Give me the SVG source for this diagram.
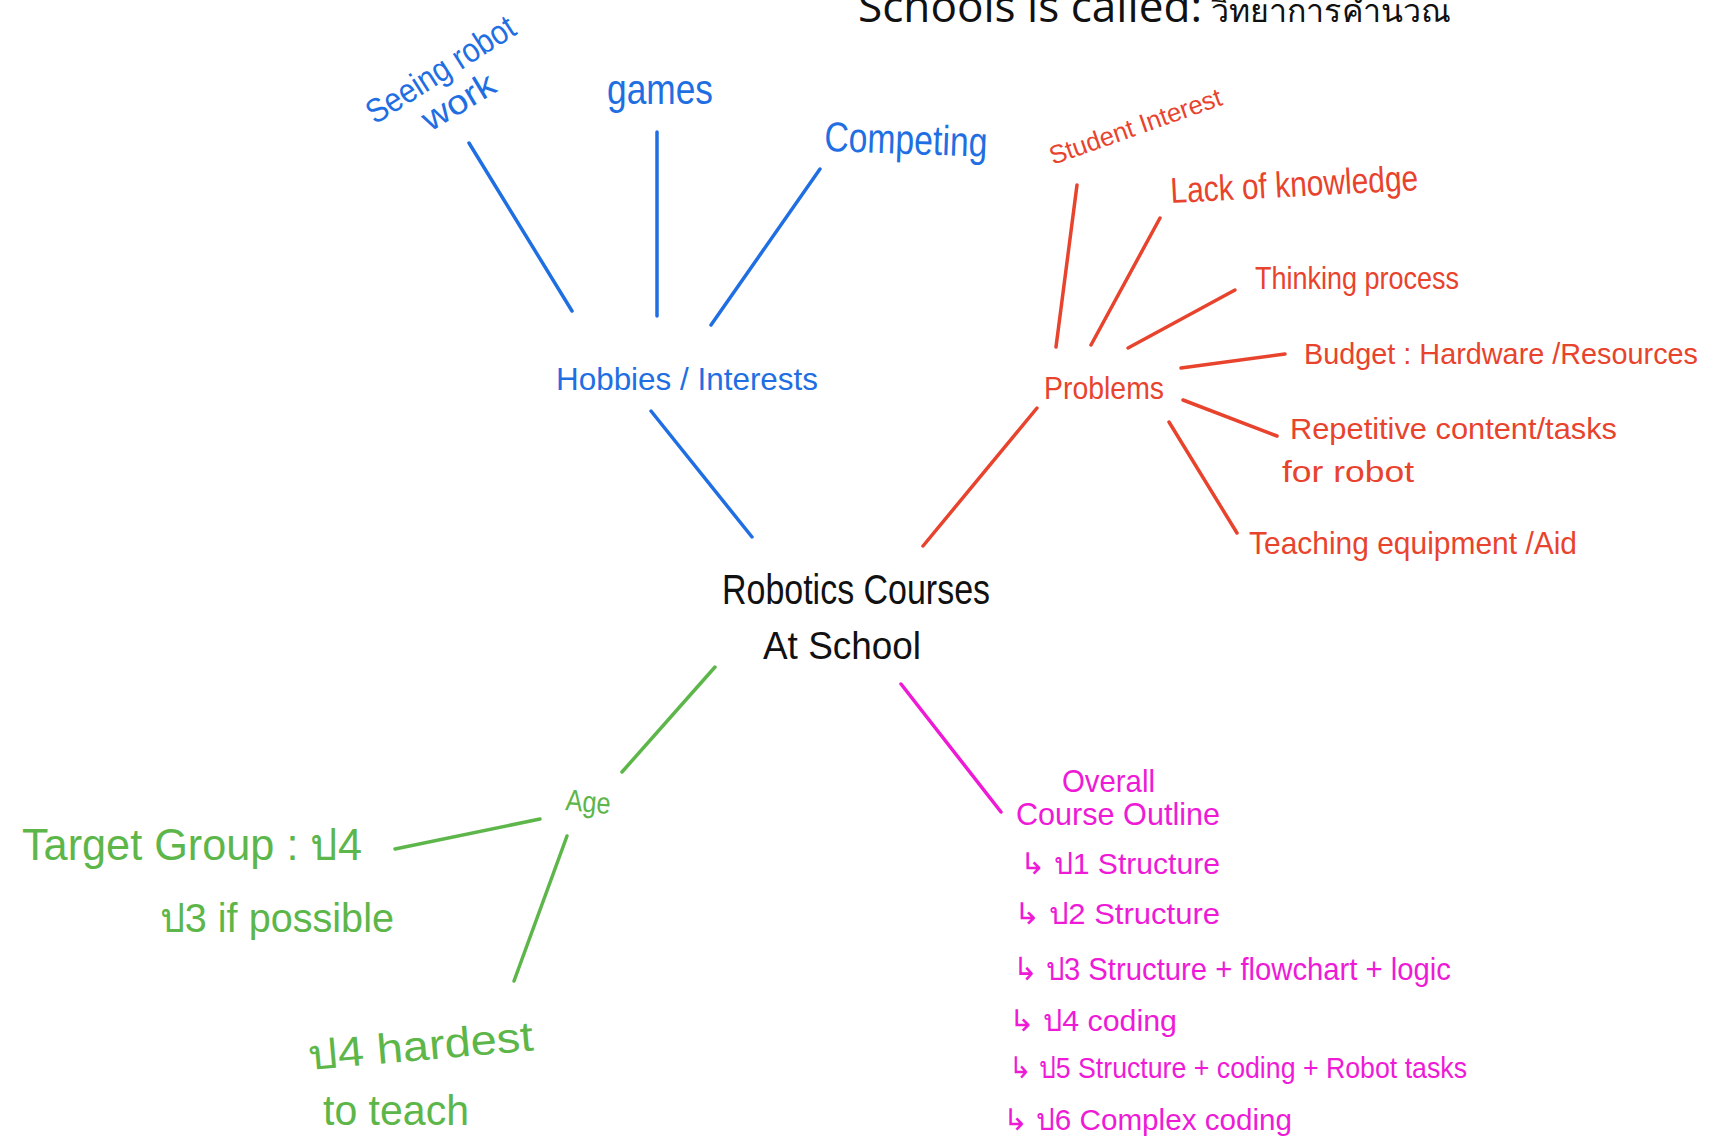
<svg xmlns="http://www.w3.org/2000/svg" width="1729" height="1147" viewBox="0 0 1729 1147">
<style>
.hw{font-family:"Liberation Sans","DejaVu Sans",sans-serif;}
.blue{fill:#1f6fe3;}
.red{fill:#e8432d;}
.green{fill:#5db64a;}
.mag{fill:#ee1ad6;}
.blk{fill:#111;}
.lb{stroke:#1f6fe3;stroke-width:3.5;stroke-linecap:round;fill:none;}
.lr{stroke:#e8432d;stroke-width:3.5;stroke-linecap:round;fill:none;}
.lg{stroke:#5db64a;stroke-width:3.5;stroke-linecap:round;fill:none;}
.lm{stroke:#ee1ad6;stroke-width:3.5;stroke-linecap:round;fill:none;}
</style>
<rect width="1729" height="1147" fill="#ffffff"/>

<g id="title">
<text x="858" y="22" font-family="'Open Sans','Liberation Sans',sans-serif" font-size="44" fill="#111" textLength="344" lengthAdjust="spacingAndGlyphs">Schools is called:</text>
<text x="1211" y="22" font-family="'Noto Sans','DejaVu Sans',sans-serif" font-size="32" fill="#111" textLength="240" lengthAdjust="spacingAndGlyphs">วิทยาการคำนวณ</text>
</g>

<g id="connectors">
<line class="lb" x1="469" y1="143" x2="572" y2="311"/>
<line class="lb" x1="657" y1="132" x2="657" y2="316"/>
<line class="lb" x1="820" y1="169" x2="711" y2="325"/>
<line class="lb" x1="651" y1="411" x2="752" y2="537"/>
<line class="lr" x1="1077" y1="185" x2="1056" y2="347"/>
<line class="lr" x1="1160" y1="218" x2="1091" y2="345"/>
<line class="lr" x1="1235" y1="290" x2="1128" y2="348"/>
<line class="lr" x1="1285" y1="354" x2="1181" y2="368"/>
<line class="lr" x1="1183" y1="400" x2="1277" y2="436"/>
<line class="lr" x1="1169" y1="422" x2="1237" y2="533"/>
<line class="lr" x1="1037" y1="408" x2="923" y2="546"/>
<line class="lg" x1="715" y1="667" x2="622" y2="772"/>
<line class="lg" x1="540" y1="819" x2="395" y2="849"/>
<line class="lg" x1="567" y1="836" x2="514" y2="981"/>
<line class="lm" x1="901" y1="684" x2="1001" y2="812"/>
</g>

<g id="center">
<text class="hw blk" x="722" y="604" font-size="42" textLength="268" lengthAdjust="spacingAndGlyphs">Robotics Courses</text>
<text class="hw blk" x="763" y="659" font-size="38" textLength="158" lengthAdjust="spacingAndGlyphs">At School</text>
</g>

<g id="hobbies">
<text class="hw blue" x="556" y="390" font-size="32" textLength="262" lengthAdjust="spacingAndGlyphs">Hobbies / Interests</text>
</g>
<g id="seeing-robot-work">
<text class="hw blue" x="375" y="125" font-size="34" textLength="170" lengthAdjust="spacingAndGlyphs" transform="rotate(-32.6 375 125)">Seeing robot</text>
<text class="hw blue" x="430" y="132" font-size="34" textLength="80" lengthAdjust="spacingAndGlyphs" transform="rotate(-31 430 132)">work</text>
</g>
<g id="games">
<text class="hw blue" x="607" y="104" font-size="42" textLength="106" lengthAdjust="spacingAndGlyphs">games</text>
</g>
<g id="competing">
<text class="hw blue" x="824" y="151" font-size="42" textLength="163" lengthAdjust="spacingAndGlyphs" transform="rotate(2 824 151)">Competing</text>
</g>

<g id="problems">
<text class="hw red" x="1044" y="399" font-size="32" textLength="120" lengthAdjust="spacingAndGlyphs">Problems</text>
</g>
<g id="student-interest">
<text class="hw red" x="1053" y="165" font-size="26" textLength="181" lengthAdjust="spacingAndGlyphs" transform="rotate(-19.5 1053 165)">Student Interest</text>
</g>
<g id="lack-of-knowledge">
<text class="hw red" x="1171" y="203" font-size="36" textLength="248" lengthAdjust="spacingAndGlyphs" transform="rotate(-3 1171 203)">Lack of knowledge</text>
</g>
<g id="thinking-process">
<text class="hw red" x="1255" y="289" font-size="32" textLength="204" lengthAdjust="spacingAndGlyphs">Thinking process</text>
</g>
<g id="budget">
<text class="hw red" x="1304" y="364" font-size="30" textLength="394" lengthAdjust="spacingAndGlyphs">Budget : Hardware /Resources</text>
</g>
<g id="repetitive">
<text class="hw red" x="1290" y="439" font-size="30" textLength="327" lengthAdjust="spacingAndGlyphs">Repetitive  content/tasks</text>
<text class="hw red" x="1282" y="482" font-size="30" textLength="132" lengthAdjust="spacingAndGlyphs">for  robot</text>
</g>
<g id="teaching-equipment">
<text class="hw red" x="1249" y="554" font-size="32" textLength="328" lengthAdjust="spacingAndGlyphs">Teaching equipment /Aid</text>
</g>

<g id="age">
<text class="hw green" x="565" y="810" font-size="30" textLength="45" lengthAdjust="spacingAndGlyphs" transform="rotate(5 565 810)">Age</text>
</g>
<g id="target-group">
<text class="hw green" x="22" y="860" font-size="44" textLength="340" lengthAdjust="spacingAndGlyphs">Target Group : ป4</text>
<text class="hw green" x="160" y="932" font-size="40" textLength="234" lengthAdjust="spacingAndGlyphs">ป3  if  possible</text>
</g>
<g id="hardest">
<text class="hw green" x="309" y="1070" font-size="42" textLength="226" lengthAdjust="spacingAndGlyphs" transform="rotate(-5 309 1070)">ป4  hardest</text>
<text class="hw green" x="323" y="1125" font-size="42" textLength="146" lengthAdjust="spacingAndGlyphs">to teach</text>
</g>

<g id="course-outline">
<text class="hw mag" x="1062" y="792" font-size="32" textLength="93" lengthAdjust="spacingAndGlyphs">Overall</text>
<text class="hw mag" x="1016" y="825" font-size="32" textLength="204" lengthAdjust="spacingAndGlyphs">Course  Outline</text>
<text class="hw mag" x="1020" y="874" font-size="30" textLength="200" lengthAdjust="spacingAndGlyphs">↳ ป1  Structure</text>
<text class="hw mag" x="1014" y="924" font-size="30" textLength="206" lengthAdjust="spacingAndGlyphs">↳ ป2  Structure</text>
<text class="hw mag" x="1013" y="980" font-size="32" textLength="438" lengthAdjust="spacingAndGlyphs">↳ ป3 Structure + flowchart + logic</text>
<text class="hw mag" x="1009" y="1031" font-size="30" textLength="168" lengthAdjust="spacingAndGlyphs">↳ ป4  coding</text>
<text class="hw mag" x="1009" y="1078" font-size="30" textLength="458" lengthAdjust="spacingAndGlyphs">↳ ป5  Structure + coding + Robot tasks</text>
<text class="hw mag" x="1003" y="1130" font-size="30" textLength="289" lengthAdjust="spacingAndGlyphs">↳ ป6  Complex  coding</text>
</g>
</svg>
